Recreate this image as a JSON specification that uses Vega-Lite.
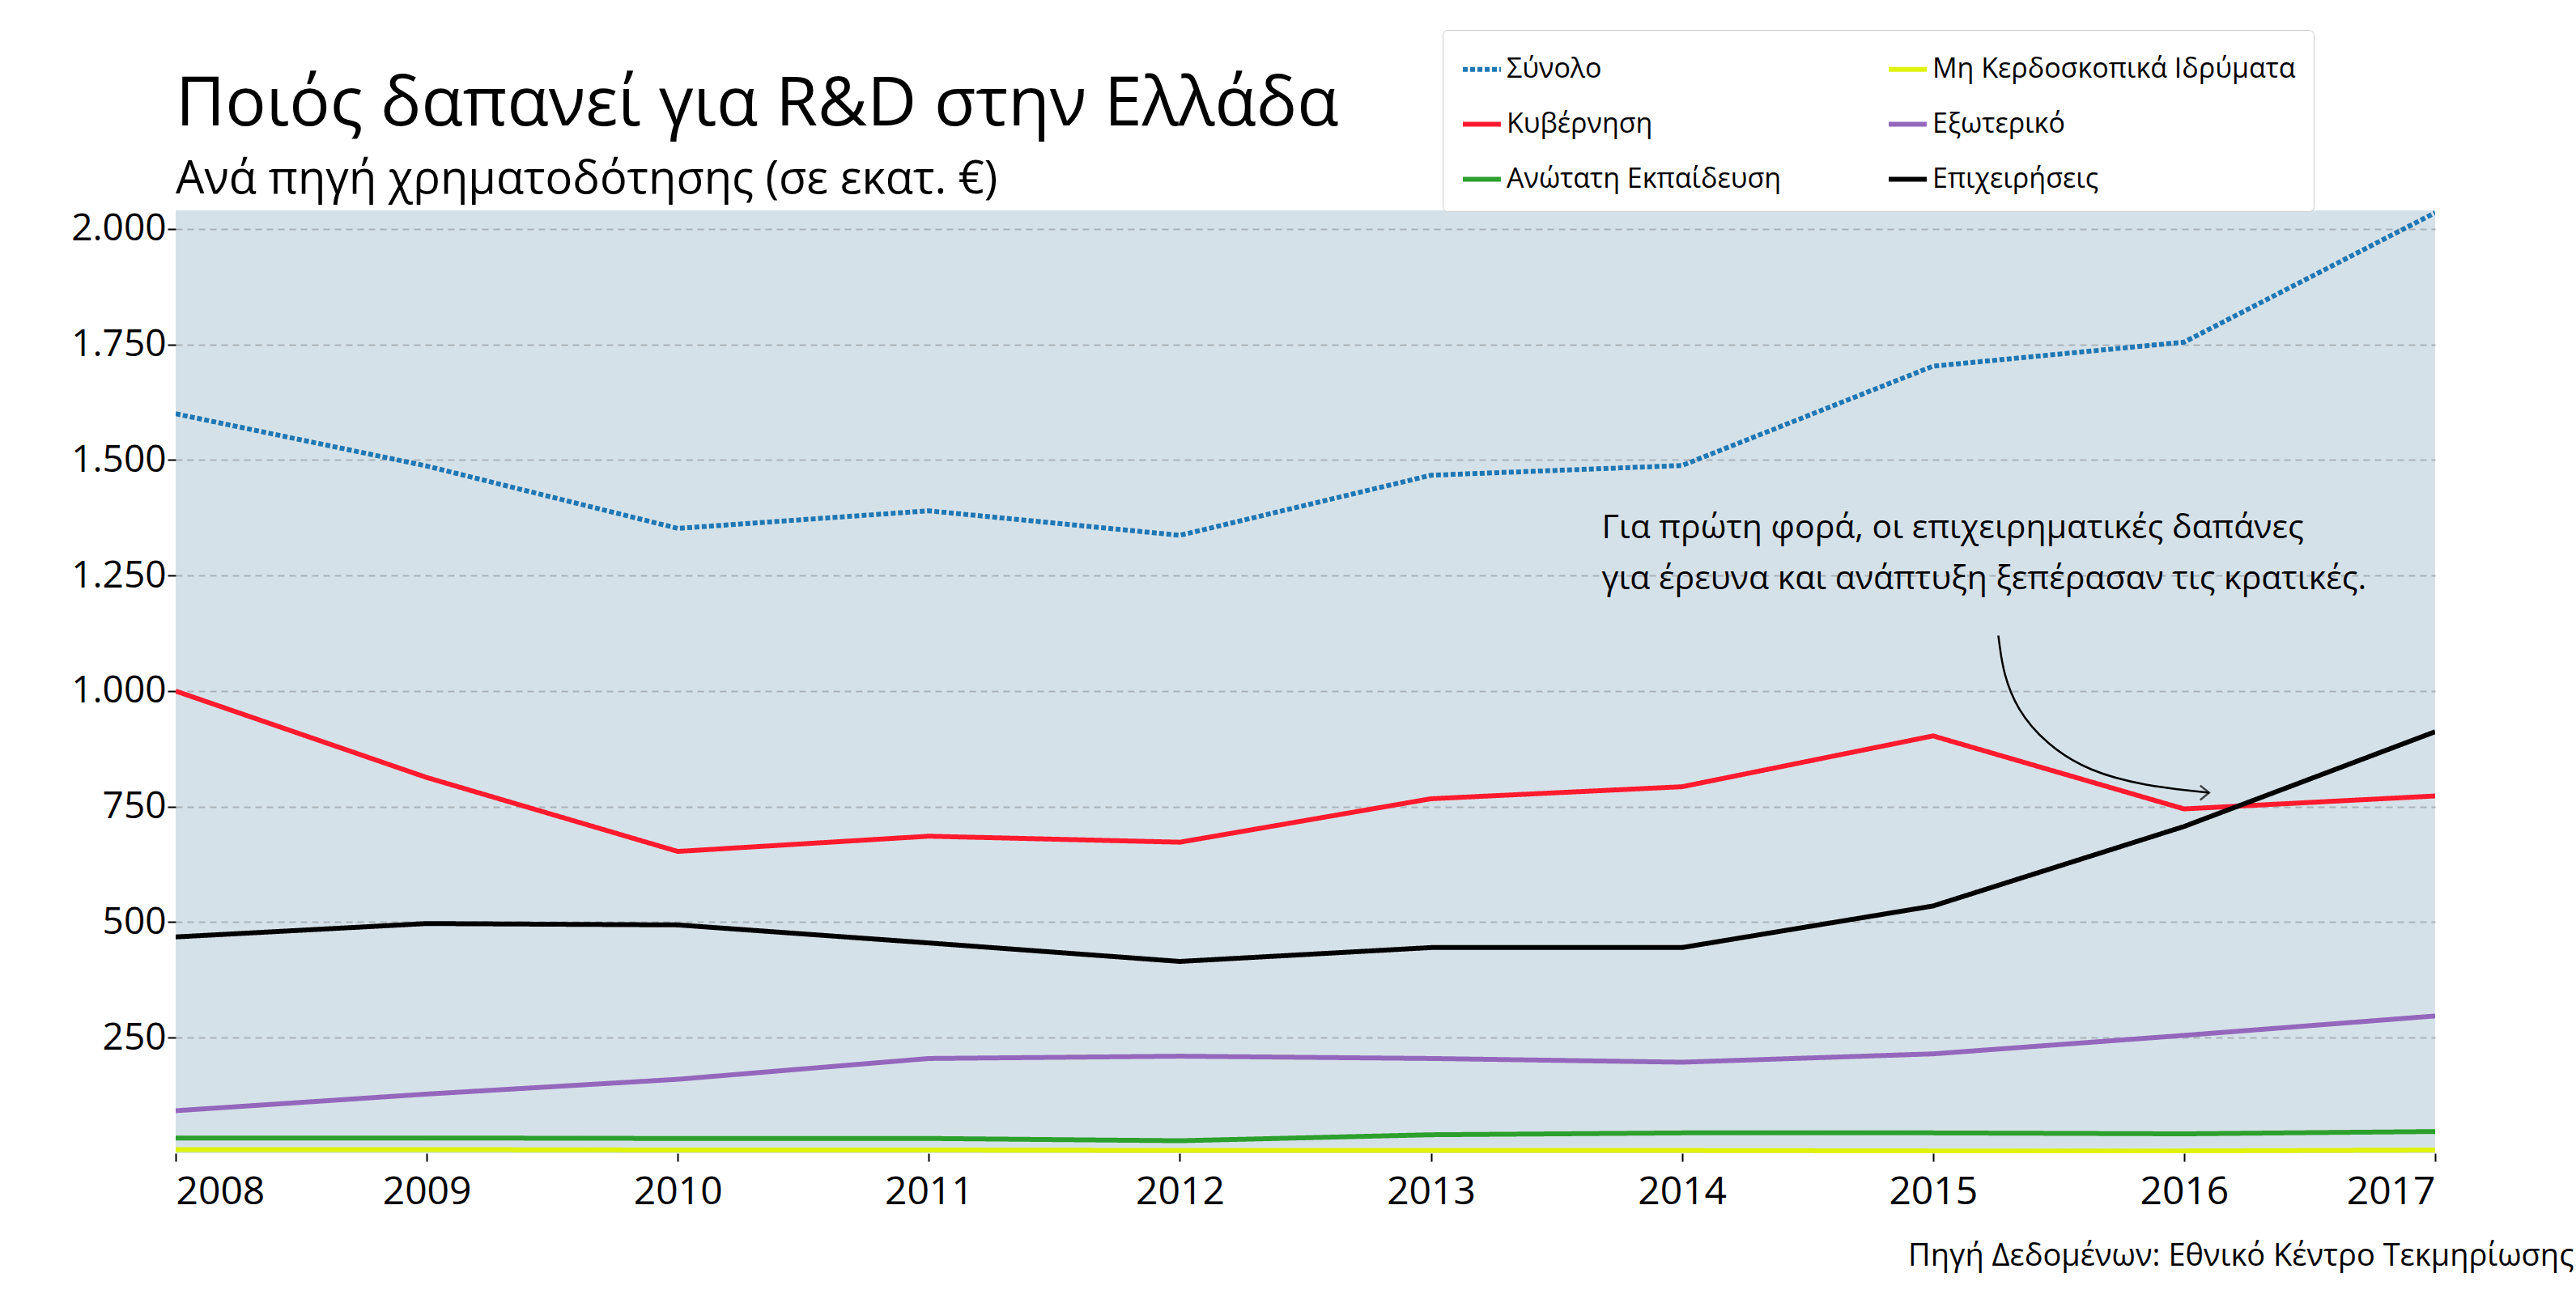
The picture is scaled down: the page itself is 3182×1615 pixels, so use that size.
{
  "$schema": "https://vega.github.io/schema/vega-lite/v6.json",
  "autosize": "none",
  "width": 2791,
  "height": 1165,
  "padding": {"left": 217, "top": 260, "right": 174, "bottom": 190},
  "background": "white",
  "title": {
    "text": "Ποιός δαπανεί για R&D στην Ελλάδα",
    "subtitle": "Ανά πηγή χρηματοδότησης (σε εκατ. €)",
    "anchor": "start",
    "frame": "group",
    "font": "Open Sans",
    "fontSize": 84,
    "fontWeight": "normal",
    "subtitleFont": "Open Sans",
    "subtitleFontSize": 56,
    "subtitleColor": "black",
    "subtitlePadding": 22,
    "offset": 22,
    "dy": 236
  },
  "datasets": {
    "series": [
      {"year": 2008, "source": "Σύνολο", "value": 1600},
      {"year": 2009, "source": "Σύνολο", "value": 1487},
      {"year": 2010, "source": "Σύνολο", "value": 1352},
      {"year": 2011, "source": "Σύνολο", "value": 1390},
      {"year": 2012, "source": "Σύνολο", "value": 1337},
      {"year": 2013, "source": "Σύνολο", "value": 1467},
      {"year": 2014, "source": "Σύνολο", "value": 1488},
      {"year": 2015, "source": "Σύνολο", "value": 1703},
      {"year": 2016, "source": "Σύνολο", "value": 1755},
      {"year": 2017, "source": "Σύνολο", "value": 2035},
      {"year": 2008, "source": "Κυβέρνηση", "value": 1000},
      {"year": 2009, "source": "Κυβέρνηση", "value": 813},
      {"year": 2010, "source": "Κυβέρνηση", "value": 653},
      {"year": 2011, "source": "Κυβέρνηση", "value": 686},
      {"year": 2012, "source": "Κυβέρνηση", "value": 673},
      {"year": 2013, "source": "Κυβέρνηση", "value": 767},
      {"year": 2014, "source": "Κυβέρνηση", "value": 793},
      {"year": 2015, "source": "Κυβέρνηση", "value": 903},
      {"year": 2016, "source": "Κυβέρνηση", "value": 745},
      {"year": 2017, "source": "Κυβέρνηση", "value": 773},
      {"year": 2008, "source": "Επιχειρήσεις", "value": 468},
      {"year": 2009, "source": "Επιχειρήσεις", "value": 497},
      {"year": 2010, "source": "Επιχειρήσεις", "value": 494},
      {"year": 2011, "source": "Επιχειρήσεις", "value": 455},
      {"year": 2012, "source": "Επιχειρήσεις", "value": 415},
      {"year": 2013, "source": "Επιχειρήσεις", "value": 445},
      {"year": 2014, "source": "Επιχειρήσεις", "value": 445},
      {"year": 2015, "source": "Επιχειρήσεις", "value": 535},
      {"year": 2016, "source": "Επιχειρήσεις", "value": 707},
      {"year": 2017, "source": "Επιχειρήσεις", "value": 912},
      {"year": 2008, "source": "Εξωτερικό", "value": 92},
      {"year": 2009, "source": "Εξωτερικό", "value": 128},
      {"year": 2010, "source": "Εξωτερικό", "value": 160},
      {"year": 2011, "source": "Εξωτερικό", "value": 205},
      {"year": 2012, "source": "Εξωτερικό", "value": 210},
      {"year": 2013, "source": "Εξωτερικό", "value": 205},
      {"year": 2014, "source": "Εξωτερικό", "value": 197},
      {"year": 2015, "source": "Εξωτερικό", "value": 215},
      {"year": 2016, "source": "Εξωτερικό", "value": 255},
      {"year": 2017, "source": "Εξωτερικό", "value": 297},
      {"year": 2008, "source": "Ανώτατη Εκπαίδευση", "value": 33},
      {"year": 2009, "source": "Ανώτατη Εκπαίδευση", "value": 33},
      {"year": 2010, "source": "Ανώτατη Εκπαίδευση", "value": 32},
      {"year": 2011, "source": "Ανώτατη Εκπαίδευση", "value": 32},
      {"year": 2012, "source": "Ανώτατη Εκπαίδευση", "value": 27},
      {"year": 2013, "source": "Ανώτατη Εκπαίδευση", "value": 40},
      {"year": 2014, "source": "Ανώτατη Εκπαίδευση", "value": 44},
      {"year": 2015, "source": "Ανώτατη Εκπαίδευση", "value": 44},
      {"year": 2016, "source": "Ανώτατη Εκπαίδευση", "value": 42},
      {"year": 2017, "source": "Ανώτατη Εκπαίδευση", "value": 47},
      {"year": 2008, "source": "Μη Κερδοσκοπικά Ιδρύματα", "value": 8},
      {"year": 2009, "source": "Μη Κερδοσκοπικά Ιδρύματα", "value": 8},
      {"year": 2010, "source": "Μη Κερδοσκοπικά Ιδρύματα", "value": 7},
      {"year": 2011, "source": "Μη Κερδοσκοπικά Ιδρύματα", "value": 7},
      {"year": 2012, "source": "Μη Κερδοσκοπικά Ιδρύματα", "value": 6},
      {"year": 2013, "source": "Μη Κερδοσκοπικά Ιδρύματα", "value": 6},
      {"year": 2014, "source": "Μη Κερδοσκοπικά Ιδρύματα", "value": 6},
      {"year": 2015, "source": "Μη Κερδοσκοπικά Ιδρύματα", "value": 5},
      {"year": 2016, "source": "Μη Κερδοσκοπικά Ιδρύματα", "value": 5},
      {"year": 2017, "source": "Μη Κερδοσκοπικά Ιδρύματα", "value": 7}
    ]
  },
  "layer": [
    {
      "data": {"name": "series"},
      "mark": {"type": "line", "strokeWidth": 6, "clip": true},
      "encoding": {
        "x": {
          "field": "year", "type": "quantitative",
          "scale": {"domain": [2008, 2017], "nice": false, "zero": false},
          "axis": {
            "values": [2008, 2009, 2010, 2011, 2012, 2013, 2014, 2015, 2016, 2017],
            "format": "d", "grid": false, "domain": false, "tickSize": 10, "tickWidth": 2,
            "tickColor": "black", "labelFontSize": 48, "labelFont": "Open Sans", "labelColor": "black",
            "labelPadding": 14,
            "title": "Πηγή Δεδομένων: Εθνικό Κέντρο Τεκμηρίωσης",
            "titleFont": "Open Sans", "titleFontSize": 38, "titleFontWeight": "normal",
            "titleAnchor": "end", "titleAlign": "right", "titleX": 2962, "titlePadding": 36
          }
        },
        "y": {
          "field": "value", "type": "quantitative",
          "scale": {"domain": [0, 2040], "nice": false},
          "axis": {
            "values": [250, 500, 750, 1000, 1250, 1500, 1750, 2000],
            "labelExpr": "replace(format(datum.value, ','), ',', '.')",
            "title": null, "domain": false, "tickSize": 10, "tickWidth": 2, "tickColor": "black",
            "labelFontSize": 46, "labelFont": "Open Sans", "labelColor": "black",
            "gridDash": [8, 6], "gridColor": "#a9b2b8", "gridWidth": 2
          }
        },
        "color": {
          "field": "source", "type": "nominal",
          "scale": {
            "domain": ["Σύνολο", "Κυβέρνηση", "Ανώτατη Εκπαίδευση", "Μη Κερδοσκοπικά Ιδρύματα", "Εξωτερικό", "Επιχειρήσεις"],
            "range": ["#1f77b4", "#ff1a2e", "#2ca02c", "#dff20a", "#9467bd", "#000000"]
          },
          "legend": {
            "title": null, "orient": "none", "legendX": 1565, "legendY": -223,
            "columns": 2, "columnPadding": 120, "rowPadding": 24, "labelLimit": 800,
            "symbolType": "stroke", "symbolSize": 2200, "symbolStrokeWidth": 6,
            "labelFont": "Open Sans", "labelFontSize": 34, "labelColor": "black",
            "padding": 22, "strokeColor": "#cccccc", "fillColor": "white", "cornerRadius": 6
          }
        },
        "strokeDash": {
          "field": "source", "type": "nominal",
          "scale": {
            "domain": ["Σύνολο", "Κυβέρνηση", "Ανώτατη Εκπαίδευση", "Μη Κερδοσκοπικά Ιδρύματα", "Εξωτερικό", "Επιχειρήσεις"],
            "range": [[6, 3], [1, 0], [1, 0], [1, 0], [1, 0], [1, 0]]
          },
          "legend": null
        }
      }
    },
    {
      "data": {"values": [
        {"x": 2013.68, "y": 1330, "t": "Για πρώτη φορά, οι επιχειρηματικές δαπάνες"},
        {"x": 2013.68, "y": 1220, "t": "για έρευνα και ανάπτυξη ξεπέρασαν τις κρατικές."}
      ]},
      "mark": {"type": "text", "align": "left", "baseline": "alphabetic", "font": "Open Sans", "fontSize": 41, "color": "black"},
      "encoding": {
        "x": {"field": "x", "type": "quantitative"},
        "y": {"field": "y", "type": "quantitative"},
        "text": {"field": "t"}
      }
    },
    {
      "data": {"values": [
        {"x": 2015.26, "y": 1120, "o": 1},
        {"x": 2015.3, "y": 960, "o": 2},
        {"x": 2015.6, "y": 810, "o": 3},
        {"x": 2016.1, "y": 780, "o": 4}
      ]},
      "mark": {"type": "line", "interpolate": "basis", "color": "black", "strokeWidth": 2.5},
      "encoding": {
        "x": {"field": "x", "type": "quantitative"},
        "y": {"field": "y", "type": "quantitative"},
        "order": {"field": "o"}
      }
    },
    {
      "data": {"values": [{"x": 2016.1, "y": 780}]},
      "mark": {"type": "point", "shape": "M-1,-0.8L0,0L-1,0.8", "size": 500, "filled": false, "color": "black", "strokeWidth": 2.5},
      "encoding": {
        "x": {"field": "x", "type": "quantitative"},
        "y": {"field": "y", "type": "quantitative"}
      }
    }
  ],
  "config": {
    "view": {"fill": "#d5e1e8", "stroke": null}
  }
}
